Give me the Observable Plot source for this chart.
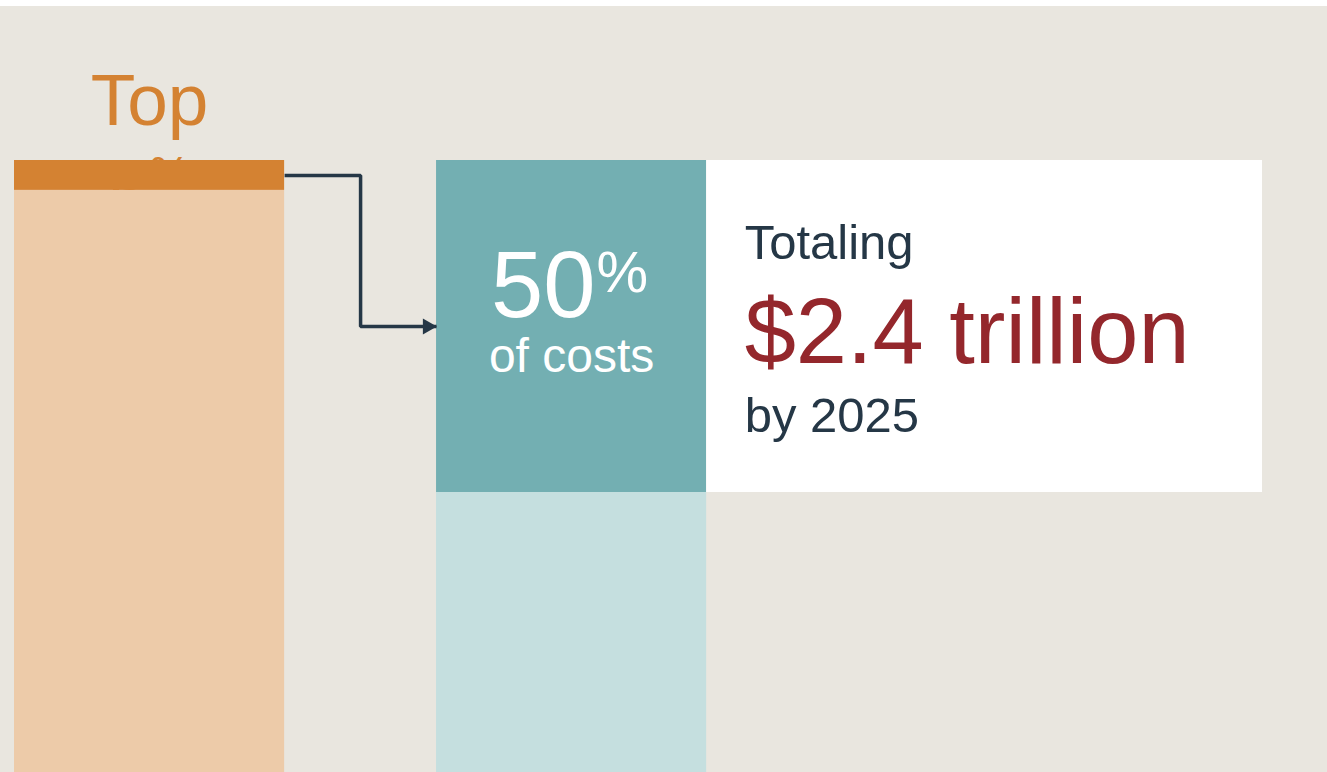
<!DOCTYPE html>
<html>
<head>
<meta charset="utf-8">
<script src="https://cdn.jsdelivr.net/npm/d3@7"></script>
<script src="https://cdn.jsdelivr.net/npm/@observablehq/plot@0.6"></script>
<style>
  html, body { margin: 0; padding: 0; background: #ffffff; overflow: hidden; }
  #wrap { padding-top: 6px; width: 1327px; }
  #wrap svg { display: block; }
</style>
</head>
<body>
<div id="wrap"></div>
<script>
// ---- data ----
const categories = ["Patients", "Costs"];
const topShare = [4.5, 50];      // highlighted share, %
const restShare = [95.5, 50];    // remaining share, %
const topColors = ["#D48232", "#73AFB2"];
const restColors = ["#EDCBA9", "#C5DFDF"];
const patientLabel = ["Top", "5", "%"];
const costLabel = ["50", "%", "of costs"];
const totalLines = ["Totaling", "$2.4 trillion", "by 2025"];

// ---- layout constants (styling) ----
const half = 0.32;        // half bar width, in column steps
const panelWidth = 1.317; // white panel width, in column steps
const navy = "#253746";
const red = "#94272C";
const font = "'Liberation Sans', Arial, Helvetica, sans-serif";

const rows = categories.map((c, i) => ({
  category: c, col: i, top: topShare[i], rest: restShare[i],
  total: topShare[i] + restShare[i], topColor: topColors[i], restColor: restColors[i]
}));
const P = rows[0], C = rows[1];

const connector = [
  {x: P.col + half, y: P.rest + P.top / 2},
  {x: (P.col + C.col) / 2, y: P.rest + P.top / 2},
  {x: (P.col + C.col) / 2, y: C.rest + C.top / 2},
  {x: C.col - half, y: C.rest + C.top / 2}
];

const plot = Plot.plot({
  width: 1327,
  height: 818,
  marginTop: 154,
  marginBottom: 0,
  marginLeft: 14,
  marginRight: 65,
  x: {type: "linear", domain: [-half, C.col + half + panelWidth], axis: null},
  y: {domain: [0, 100], axis: null},
  color: {type: "identity"},
  style: {background: "#E9E6DF", fontFamily: font, overflow: "visible"},
  marks: [
    // "Top 5%" label (second line is hidden behind the bar)
    Plot.text([P], {x: "col", y: "total", text: () => patientLabel[0], fill: "#D48232",
      fontSize: 73, textAnchor: "middle", lineAnchor: "bottom", dy: -36}),
    Plot.text([P], {x: "col", y: "total", text: () => patientLabel[1], fill: "#D48232",
      fontSize: 73, textAnchor: "end", lineAnchor: "bottom", dx: -1, dy: 60}),
    Plot.text([P], {x: "col", y: "total", text: () => patientLabel[2], fill: "#D48232",
      fontSize: 46, textAnchor: "start", lineAnchor: "bottom", dx: 0, dy: 28}),
    // bars
    Plot.rect(rows, {x1: d => d.col - half, x2: d => d.col + half, y1: 0, y2: "rest", fill: "restColor"}),
    Plot.rect(rows, {x1: d => d.col - half, x2: d => d.col + half, y1: "rest", y2: "total", fill: "topColor"}),
    // white panel
    Plot.rect([C], {x1: d => d.col + half, x2: d => d.col + half + panelWidth, y1: "rest", y2: "total", fill: "#ffffff"}),
    // connector arrow
    Plot.line(connector, {x: "x", y: "y", stroke: navy, strokeWidth: 3.5, strokeLinejoin: "miter", strokeLinecap: "butt"}),
    Plot.dot([connector[3]], {x: "x", y: "y", symbol: "triangle", r: 6, rotate: 90, fill: navy, stroke: null, dx: -9}),
    // 50% of costs
    Plot.text([C], {x: "col", y: d => d.rest + d.top / 2, text: () => costLabel[0], fill: "#ffffff",
      fontSize: 94, textAnchor: "end", lineAnchor: "bottom", dx: 24, dy: -10}),
    Plot.text([C], {x: "col", y: d => d.rest + d.top / 2, text: () => costLabel[1], fill: "#ffffff",
      fontSize: 58, textAnchor: "start", lineAnchor: "bottom", dx: 25, dy: -35}),
    Plot.text([C], {x: "col", y: d => d.rest + d.top / 2, text: () => costLabel[2], fill: "#ffffff",
      fontSize: 48, textAnchor: "middle", lineAnchor: "bottom", dy: 45}),
    // panel text
    Plot.text([C], {x: d => d.col + half, y: d => d.rest + d.top / 2, text: () => totalLines[0], fill: navy,
      fontSize: 49, textAnchor: "start", lineAnchor: "bottom", dx: 38, dy: -68}),
    Plot.text([C], {x: d => d.col + half, y: d => d.rest + d.top / 2, text: () => totalLines[1], fill: red,
      fontSize: 92, textAnchor: "start", lineAnchor: "bottom", dx: 38, dy: 36}),
    Plot.text([C], {x: d => d.col + half, y: d => d.rest + d.top / 2, text: () => totalLines[2], fill: navy,
      fontSize: 49, textAnchor: "start", lineAnchor: "bottom", dx: 38, dy: 105})
  ]
});
document.getElementById("wrap").appendChild(plot);
</script>
</body>
</html>
